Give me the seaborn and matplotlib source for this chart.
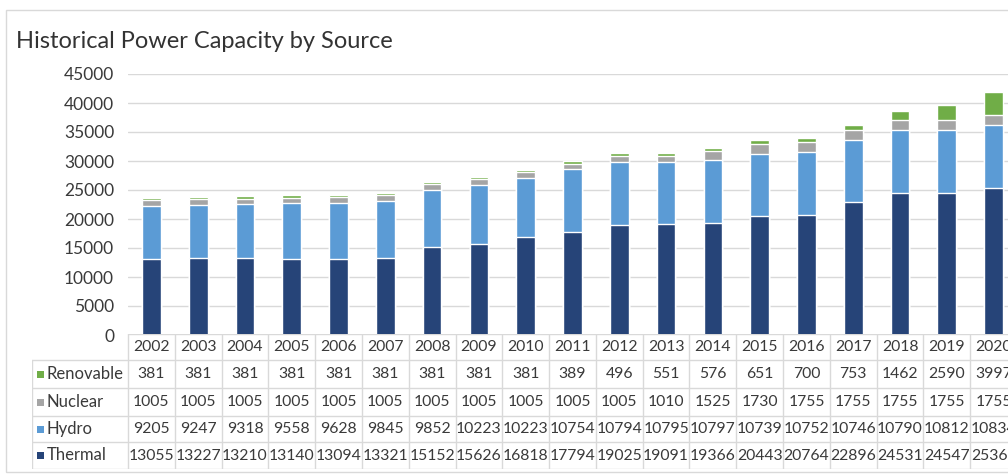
import matplotlib
matplotlib.use('Agg')
import matplotlib.pyplot as plt
import numpy as np
import pandas as pd
import seaborn as sns
from matplotlib.patches import Rectangle

years = [str(y) for y in range(2002, 2021)]
renovable = [381, 381, 381, 381, 381, 381, 381, 381, 381, 389, 496, 551, 576, 651, 700, 753, 1462, 2590, 3997]
nuclear = [1005, 1005, 1005, 1005, 1005, 1005, 1005, 1005, 1005, 1005, 1005, 1010, 1525, 1730, 1755, 1755, 1755, 1755, 1755]
hydro = [9205, 9247, 9318, 9558, 9628, 9845, 9852, 10223, 10223, 10754, 10794, 10795, 10797, 10739, 10752, 10746, 10790, 10812, 10834]
thermal = [13055, 13227, 13210, 13140, 13094, 13321, 15152, 15626, 16818, 17794, 19025, 19091, 19366, 20443, 20764, 22896, 24531, 24547, 25365]

series = ['Renovable', 'Nuclear', 'Hydro', 'Thermal']
colors = {'Renovable': '#70AD47', 'Nuclear': '#A5A5A5', 'Hydro': '#5B9BD5', 'Thermal': '#264478'}

df = pd.DataFrame({'year': years, 'Renovable': renovable, 'Nuclear': nuclear,
                   'Hydro': hydro, 'Thermal': thermal})

sns.set_style('white')
plt.rcParams['font.family'] = ['Lato', 'DejaVu Sans']
text_col = '#3a3a3a'
grid_col = '#d9d9d9'

W, H = 1008, 474
fig = plt.figure(figsize=(W / 100, H / 100), dpi=100)

# pixel layout
x_left, x_right = 128, 1017
y_zero, y_top = 335, 74
col_w = (x_right - x_left) / len(years)

ax = fig.add_axes([x_left / W, 1 - y_zero / H, (x_right - x_left) / W, (y_zero - y_top) / H])

# stacked bars: draw cumulative totals from top series down
stack_order = ['Thermal', 'Hydro', 'Nuclear', 'Renovable']
cum = df[stack_order].cumsum(axis=1)
for name in series:
    sns.barplot(x=df['year'], y=cum[name], color=colors[name], width=0.4,
                saturation=1, errorbar=None, ax=ax, zorder=3)

ax.set_xlim(-0.5, len(years) - 0.5)
ax.set_ylim(0, 45000)
ax.set_yticks(np.arange(0, 45001, 5000))
ax.yaxis.grid(True, color=grid_col, lw=1, zorder=0)
ax.set_xticks([])
ax.set_xlabel('')
ax.set_ylabel('')
for s in ax.spines.values():
    s.set_visible(False)
ax.tick_params(axis='y', length=0, pad=10, labelsize=12.5, labelcolor=text_col)

# data table below the axis
tab_left, tab_top, tab_bottom = 32, 334, 469
tab = fig.add_axes([tab_left / W, 1 - tab_bottom / H, (x_right - tab_left) / W, (tab_bottom - tab_top) / H])
x0 = -0.5 - (x_left - tab_left) / col_w
tab.set_xlim(x0, len(years) - 0.5)
row_edges = [0, 26, 54, 82, 108, 135]
tab.set_ylim(row_edges[-1], 0)
tab.axis('off')

line_kw = dict(color=grid_col, lw=1)
tab.plot([-0.5, len(years) - 0.5], [0, 0], **line_kw)
for e in row_edges[1:]:
    tab.plot([x0, len(years) - 0.5], [e, e], **line_kw)
tab.plot([x0, x0], [row_edges[1], row_edges[-1]], **line_kw)
for i in range(len(years) + 1):
    tab.plot([i - 0.5, i - 0.5], [0, row_edges[-1]], **line_kw)

fs = 11.3
for i, yr in enumerate(years):
    tab.text(i, (row_edges[0] + row_edges[1]) / 2, yr, ha='center', va='center',
             fontsize=fs, color=text_col)
for r, name in enumerate(series):
    yc = (row_edges[r + 1] + row_edges[r + 2]) / 2
    for i, v in enumerate(df[name]):
        tab.text(i, yc, str(v), ha='center', va='center', fontsize=fs, color=text_col)
    sq = 7 / col_w
    tab.add_patch(Rectangle((x0 + 5 / col_w, yc - 3.5), sq, 7, color=colors[name], lw=0))
    tab.text(x0 + 15 / col_w, yc, name, ha='left', va='center', fontsize=12, color=text_col)

# chart border
fig.add_artist(Rectangle((6 / W, 1 - 472 / H), 1.2, (472 - 10) / H, transform=fig.transFigure,
                         fill=False, edgecolor=grid_col, lw=1))

fig.text(16 / W, 1 - 41 / H, 'Historical Power Capacity by Source', ha='left', va='center',
         fontsize=17, color='#333333')

fig.savefig('out.png', dpi=100)
